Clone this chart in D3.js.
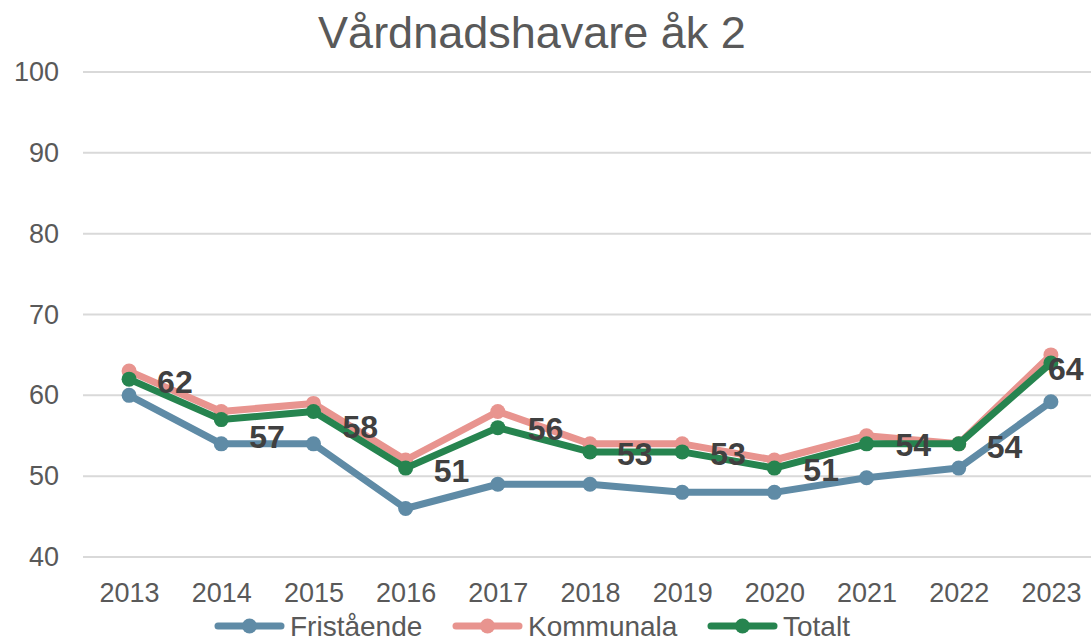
<!doctype html>
<html>
<head>
  <meta charset="utf-8">
  <script src="https://d3js.org/d3.v7.min.js"></script>
  <style>
    body { margin: 0; background: #fff; }
    text { font-family: "Liberation Sans", Arial, sans-serif; }
  </style>
</head>
<body>
  <script>
    // data
    var years = ["2013", "2014", "2015", "2016", "2017", "2018", "2019", "2020", "2021", "2022", "2023"];
    var fristaende = [60, 54, 54, 46, 49, 49, 48, 48, 49.8, 51, 59.2];
    var kommunala = [63, 58, 59, 52, 58, 54, 54, 52, 55, 54, 65];
    var totalt = [62, 57, 58, 51, 56, 53, 53, 51, 54, 54, 64];
    var yTicks = [40, 50, 60, 70, 80, 90, 100];

    var series = [
      { name: "Fristående", values: fristaende, color: "#5f8ba6" },
      { name: "Kommunala", values: kommunala, color: "#e8948f" },
      { name: "Totalt", values: totalt, color: "#26844f" }
    ];

    // label nudges (px) so the data labels sit where Excel put them
    var labelDy = [2, 17, 15, 2, 1, 2, 2, 1, 1, 3, 5];
    var labelDx = [28, 28, 29, 28, 30, 27, 28, 29, 29, 28, -3];

    var width = 1091, height = 641;
    var plotLeft = 83, plotRight = 1097, plotTop = 72, plotBottom = 557;

    var x = d3.scalePoint().domain(years).range([plotLeft, plotRight]).padding(0.5);
    var y = d3.scaleLinear().domain([40, 100]).range([plotBottom, plotTop]);

    var svg = d3.select("body").append("svg")
      .attr("width", width)
      .attr("height", height);

    // title
    svg.append("text")
      .attr("x", 532).attr("y", 48)
      .attr("text-anchor", "middle")
      .attr("font-size", 45)
      .attr("fill", "#595959")
      .text("Vårdnadshavare åk 2");

    // gridlines
    svg.append("g").selectAll("line")
      .data(yTicks)
      .enter().append("line")
      .attr("x1", plotLeft).attr("x2", plotRight)
      .attr("y1", function(d) { return y(d); })
      .attr("y2", function(d) { return y(d); })
      .attr("stroke", "#d9d9d9")
      .attr("stroke-width", 2);

    // y axis
    var yAxis = d3.axisLeft(y).tickValues(yTicks).tickSize(0).tickPadding(24);
    var gy = svg.append("g").attr("transform", "translate(" + plotLeft + ",0)").call(yAxis);
    gy.select(".domain").remove();
    gy.selectAll("text").attr("font-size", 27).attr("fill", "#595959")
      .attr("font-family", "Liberation Sans, Arial, sans-serif");

    // x axis
    var xAxis = d3.axisBottom(x).tickSize(0).tickPadding(26);
    var gx = svg.append("g").attr("transform", "translate(0," + plotBottom + ")").call(xAxis);
    gx.select(".domain").remove();
    gx.selectAll("text").attr("font-size", 27).attr("fill", "#595959")
      .attr("font-family", "Liberation Sans, Arial, sans-serif");

    var line = d3.line()
      .x(function(d, i) { return x(years[i]); })
      .y(function(d) { return y(d); });

    series.forEach(function(s) {
      var g = svg.append("g");
      g.append("path")
        .datum(s.values)
        .attr("d", line)
        .attr("fill", "none")
        .attr("stroke", s.color)
        .attr("stroke-width", 7)
        .attr("stroke-linejoin", "round");
      g.selectAll("circle")
        .data(s.values)
        .enter().append("circle")
        .attr("cx", function(d, i) { return x(years[i]); })
        .attr("cy", function(d) { return y(d); })
        .attr("r", 7.5)
        .attr("fill", s.color);
    });

    // data labels on Totalt
    svg.append("g").selectAll("text")
      .data(totalt)
      .enter().append("text")
      .attr("x", function(d, i) { return x(years[i]) + labelDx[i]; })
      .attr("y", function(d, i) { return y(d) + labelDy[i] + 11.5; })
      .attr("font-size", 32)
      .attr("font-weight", "bold")
      .attr("fill", "#404040")
      .text(function(d) { return d; });

    // legend
    var legendX = [215, 453, 708];
    var lg = svg.append("g").selectAll("g")
      .data(series)
      .enter().append("g")
      .attr("transform", function(d, i) { return "translate(" + legendX[i] + ",626)"; });
    lg.append("line")
      .attr("x1", 3).attr("x2", 66).attr("y1", 0).attr("y2", 0)
      .attr("stroke", function(d) { return d.color; })
      .attr("stroke-width", 7)
      .attr("stroke-linecap", "round");
    lg.append("circle")
      .attr("cx", 34.5).attr("cy", 0).attr("r", 7.5)
      .attr("fill", function(d) { return d.color; });
    lg.append("text")
      .attr("x", 75).attr("y", 10)
      .attr("font-size", 28)
      .attr("fill", "#595959")
      .text(function(d) { return d.name; });
  </script>
</body>
</html>
